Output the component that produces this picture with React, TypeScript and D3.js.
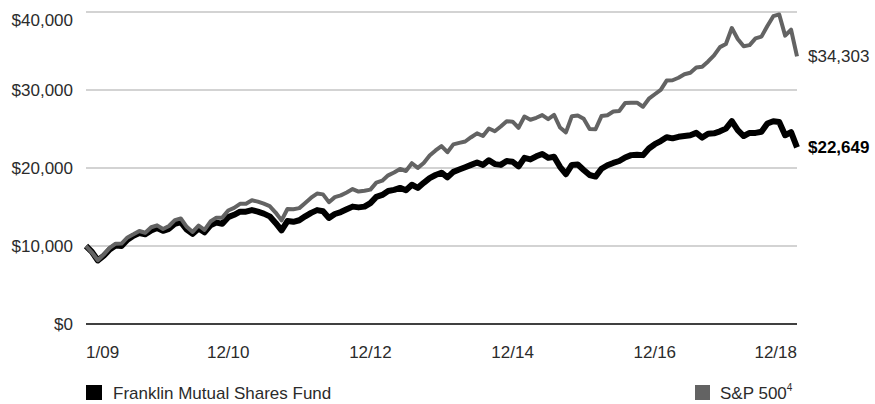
import React from 'react';
import { scaleLinear, line } from 'd3';

const width = 875;
const height = 404;
const margin = { top: 12, right: 78, bottom: 80, left: 86 };

// monthly values, 12/08 .. 12/18 (121 points)
const fundValues = [
  10000,
  9250, 8150, 8750, 9550, 10050, 10000, 10800, 11300, 11650, 11500, 12000, 12300,
  11950, 12200, 12850, 13050, 12100, 11550, 12250, 11750, 12650, 13000, 12850, 13700,
  14000, 14400, 14400, 14600, 14400, 14150, 13800, 12950, 12000, 13200, 13100, 13300,
  13800, 14250, 14600, 14450, 13600, 14100, 14350, 14700, 15050, 14950, 15050, 15500,
  16300, 16550, 17050, 17200, 17450, 17150, 17850, 17450, 18100, 18700, 19100, 19400,
  18800, 19500, 19800, 20100, 20400, 20700, 20400, 21000, 20500, 20400, 20900, 20800,
  20200, 21300, 21100, 21500, 21800, 21300, 21450, 20150, 19200, 20400, 20450, 19750,
  19100, 18900, 19900, 20350, 20650, 20900, 21350, 21650, 21700, 21650, 22500, 23050,
  23450, 23950, 23800, 24000, 24100, 24200, 24500, 23900, 24400, 24450, 24700, 25050,
  26000, 24850, 24100, 24500, 24500, 24650, 25700, 26000, 25900, 24200, 24600, 22649,
];

const spValues = [
  10000,
  9157, 8182, 8899, 9750, 10295, 10316, 11096, 11496, 11925, 11703, 12405, 12645,
  12190, 12568, 13326, 13536, 12455, 11804, 12631, 12061, 13137, 13636, 13637, 14548,
  14893, 15404, 15410, 15866, 15687, 15425, 15112, 14291, 13286, 14738, 14706, 14856,
  15522, 16193, 16725, 16620, 15621, 16265, 16491, 16862, 17297, 16977, 17075, 17230,
  18123, 18369, 19058, 19426, 19880, 19614, 20612, 20015, 20643, 21593, 22251, 22814,
  22025, 23031, 23225, 23397, 23946, 24442, 24105, 25069, 24718, 25321, 26002, 25937,
  25159, 26606, 26186, 26437, 26778, 26259, 26810, 25193, 24571, 26645, 26725, 26303,
  24998, 24966, 26659, 26763, 27245, 27316, 28324, 28364, 28370, 27854, 28885, 29457,
  30017, 31209, 31246, 31568, 32013, 32212, 32875, 32977, 33656, 34440, 35498, 35892,
  37948, 36548, 35620, 35755, 36617, 36844, 38215, 39461, 39686, 36971, 37725, 34303,
];

const xTickIndex = [0, 24, 48, 72, 96, 120];
const xTickLabels = ['1/09', '12/10', '12/12', '12/14', '12/16', '12/18'];
const yTicks = [0, 10000, 20000, 30000, 40000];

const seriesNames = ['Franklin Mutual Shares Fund', 'S&P 500'];
const fundColor = '#000000';
const spColor = '#636363';
const font = '"Liberation Sans", Arial, sans-serif';
const textColor = '#2b2b2b';

const fmt = (v: number) => '$' + v.toLocaleString('en-US');

export default function App() {
  const xScale = scaleLinear()
    .domain([0, fundValues.length - 1])
    .range([margin.left, width - margin.right]);

  const yScale = scaleLinear()
    .domain([0, 40000])
    .range([height - margin.bottom, margin.top]);

  const path = line<number>()
    .x((d, i) => xScale(i))
    .y((d) => yScale(d));

  const x0 = xScale.range()[0];
  const x1 = xScale.range()[1];
  const lastFund = fundValues[fundValues.length - 1];
  const lastSp = spValues[spValues.length - 1];

  return (
    <svg
      width={width}
      height={height}
      style={{ position: 'absolute', left: 0, top: 0, background: '#fff' }}
      fontFamily={font}
    >
      {yTicks.map((t) => (
        <g key={t}>
          {t > 0 && (
            <line x1={x0} x2={x1} y1={yScale(t)} y2={yScale(t)} stroke="#c4c4c4" strokeWidth={1.3} />
          )}
          <text
            x={73}
            y={Math.max(yScale(t), 20)}
            textAnchor="end"
            dominantBaseline="central"
            fontSize={17}
            fill={textColor}
          >
            {fmt(t)}
          </text>
        </g>
      ))}
      <line x1={x0} x2={x1} y1={yScale(0)} y2={yScale(0)} stroke="#000" strokeWidth={1.6} />

      {xTickIndex.map((idx, i) => (
        <text
          key={idx}
          x={xScale(idx)}
          y={352}
          textAnchor={i === 0 ? 'start' : i === xTickIndex.length - 1 ? 'end' : 'middle'}
          dominantBaseline="central"
          fontSize={17}
          fill={textColor}
        >
          {xTickLabels[i]}
        </text>
      ))}

      <path d={path(fundValues) || ''} fill="none" stroke={fundColor} strokeWidth={6} strokeLinejoin="round" />
      <path d={path(spValues) || ''} fill="none" stroke={spColor} strokeWidth={4} strokeLinejoin="round" />

      <text x={808} y={yScale(lastSp)} dominantBaseline="central" fontSize={17} fill={textColor}>
        {fmt(lastSp)}
      </text>
      <text x={808} y={yScale(lastFund)} dominantBaseline="central" fontSize={17} fontWeight="bold" fill="#000">
        {fmt(lastFund)}
      </text>

      <rect x={86} y={385} width={16} height={15} fill={fundColor} />
      <text x={113} y={393} dominantBaseline="central" fontSize={17} fill={textColor}>
        {seriesNames[0]}
      </text>
      <rect x={695} y={385} width={15} height={15} fill={spColor} />
      <text x={720} y={393} dominantBaseline="central" fontSize={17} fill={textColor}>
        {seriesNames[1]}
        <tspan fontSize={10} dy={-6}>4</tspan>
      </text>
    </svg>
  );
}
